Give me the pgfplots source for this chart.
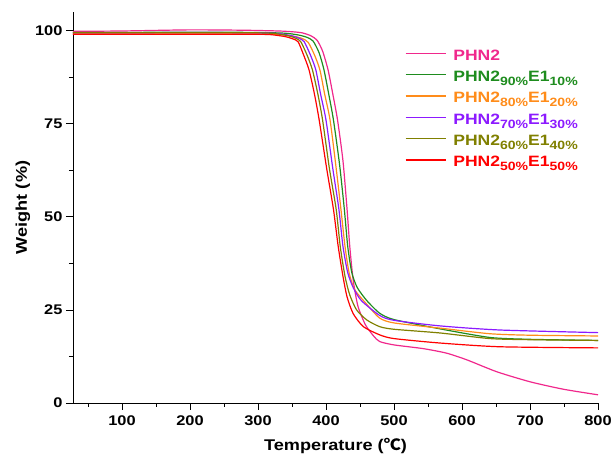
\documentclass[border=0pt]{standalone}
\usepackage{fontspec}
\setmainfont{Liberation Sans}[FakeStretch=1.17]
\newfontfamily\cjk{Noto Sans CJK SC}[FakeStretch=1.1]
\usepackage{xcolor}
\usepackage{pgfplots}
\pgfplotsset{compat=1.18}
\definecolor{cmag}{HTML}{F0288C}
\definecolor{cgrn}{HTML}{1E8C1E}
\definecolor{corg}{HTML}{FF8C1A}
\definecolor{cpur}{HTML}{8C1AFF}
\definecolor{coli}{HTML}{808000}
\definecolor{cred}{HTML}{FF0000}
% legend entry with lowered percentages
\newcommand{\sub}[1]{\raisebox{-4pt}{\fontsize{12}{12}\selectfont #1}}
\newcommand{\blend}[3]{\textcolor{#1}{PHN2\sub{#2\%}E1\sub{#3\%}}}
\begin{document}
\begin{tikzpicture}
\begin{axis}[
  scale only axis, width=525pt, height=391pt,
  xmin=28, xmax=800, ymin=0, ymax=105,
  axis x line*=bottom, axis y line*=left,
  xtick={100,200,...,800}, minor xtick={50,150,...,750},
  ytick={0,25,50,75,100}, minor ytick={12.5,37.5,62.5,87.5},
  tick align=outside, major tick length=7pt, minor tick length=4pt,
  tick style={black, line width=0.8pt}, axis line style={black, line width=0.8pt},
  /pgf/number format/assume math mode=true,
  ticklabel style={font=\fontsize{14}{16}\selectfont\bfseries},
  xticklabel style={yshift=-2pt},
  xlabel={\fontsize{15.5}{17}\selectfont\bfseries Temperature ({\cjk ℃})},
  ylabel={\fontsize{15.5}{17}\selectfont\bfseries Weight (\%)},
  xlabel style={yshift=-6pt}, ylabel style={yshift=-2pt},
  legend style={draw=none, fill=none, at={(0.632,0.905)}, anchor=north west,
    font=\fontsize{15}{16}\selectfont\bfseries, row sep=5.3pt, inner sep=0pt,
    nodes={inner sep=0pt, text height=11pt, text depth=5pt}},
  legend cell align=left,
  legend image code/.code={\draw[#1, line width=1.4pt] (0pt,4pt) -- (40pt,4pt); \path (47pt,4pt);},
  every axis plot/.append style={line width=1.2pt, smooth, tension=0.4},
]
\addplot[cmag] coordinates {(28,99.8)(100,99.9)(200,100.2)(280,100.1)(330,99.9)(350,99.7)(365,99.4)(378,98.6)(387,97.4)(395,94.5)(403,89.5)(410,83)(417,76)(425,65)(431,52)(435,42)(440,33)(447,26)(458,21)(470,18)(479,16.5)(500,15.6)(543,14.6)(577,13.4)(607,11.6)(651,8.4)(700,5.7)(749,3.7)(800,2.2)};
\addlegendentry{\textcolor{cmag}{PHN2}}
\addplot[cgrn] coordinates {(28,99.5)(100,99.5)(200,99.6)(300,99.5)(340,99.3)(360,98.8)(372,98.2)(381,97.2)(390,94)(397,89.5)(404,83)(411,76)(420,64)(427,52)(432,42)(438,35)(446,31)(460,27.5)(479,24.1)(500,22.4)(568,19.9)(641,17.6)(700,17.1)(800,16.8)};
\addlegendentry{\blend{cgrn}{90}{10}}
\addplot[corg] coordinates {(28,99.1)(100,99.1)(200,99.1)(300,99.1)(335,98.9)(355,98.4)(366,97.8)(374,96.8)(383,93.5)(391,89.5)(398,83)(406,76)(415,63)(422,52)(428,42)(434,35)(442,30.5)(460,26.5)(479,22.8)(500,21.5)(568,20.1)(641,18.6)(700,18.2)(800,18.0)};
\addlegendentry{\blend{corg}{80}{20}}
\addplot[cpur] coordinates {(28,99.4)(100,99.4)(200,99.5)(300,99.4)(330,99.2)(350,98.6)(361,97.9)(368,97)(377,93.5)(385,89.5)(392,83)(400,76)(410,63)(419,52)(425,42)(432,35)(440,31)(452,27.5)(479,23.5)(500,22.2)(568,20.7)(656,19.6)(800,18.9)};
\addlegendentry{\blend{cpur}{70}{30}}
\addplot[coli] coordinates {(28,99.4)(100,99.4)(200,99.4)(300,99.4)(325,99.2)(345,98.6)(356,97.9)(363,97)(372,93.5)(380,89.5)(388,83)(395,76)(405,63)(415,52)(421,42)(428,34)(435,29)(445,25)(460,22.3)(479,20.5)(500,19.8)(568,18.8)(641,17.3)(700,17.0)(800,16.8)};
\addlegendentry{\blend{coli}{60}{40}}
\addplot[cred] coordinates {(28,99.0)(100,99.0)(200,99.0)(300,99.0)(320,98.9)(340,98.4)(351,97.8)(359,97)(367,93.5)(375,89.5)(383,83)(390,76)(401,63)(411,52)(418,42)(425,34)(431,28.5)(440,24)(455,20.5)(479,18.3)(500,17.3)(568,16.1)(656,15.1)(800,14.8)};
\addlegendentry{\blend{cred}{50}{50}}
\end{axis}
\pgfresetboundingbox
\path[use as bounding box] (current axis.south west) ++(-73pt,-51pt) rectangle ++(612pt,454pt);
\end{tikzpicture}
\end{document}
